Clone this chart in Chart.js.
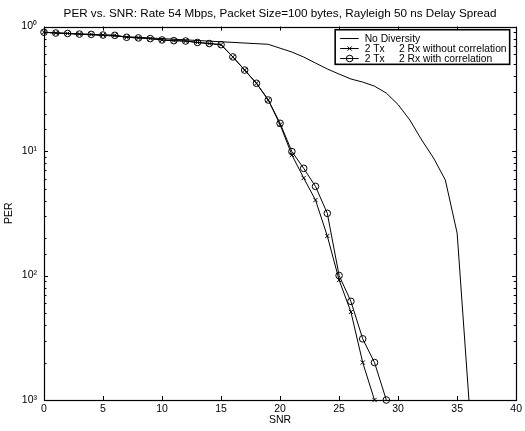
<!DOCTYPE html>
<html>
<head>
<meta charset="utf-8">
<script src="https://cdn.jsdelivr.net/npm/chart.js@4.4.1/dist/chart.umd.min.js"></script>
<style>
    html, body { margin: 0; padding: 0; background: #fff; }
    #wrap { width: 525px; height: 431px; }
</style>
</head>
<body>
<div id="wrap"><canvas id="perChart"></canvas></div>
<script>
// --- data ---
const snrWith = [0, 1, 2, 3, 4, 5, 6, 7, 8, 9, 10, 11, 12, 13, 14, 15, 16, 17, 18, 19, 20, 21, 22, 23, 24, 25, 26, 27, 28, 29];
const perWith = [0.90, 0.887, 0.88, 0.87, 0.865, 0.855, 0.85, 0.82, 0.81, 0.80, 0.78, 0.77, 0.765, 0.745, 0.73, 0.715,
    0.57, 0.447, 0.35, 0.257, 0.167, 0.099, 0.0726, 0.052, 0.0316, 0.010, 0.0062, 0.0031, 0.002, 0.001];

const snrWithout = [0, 1, 2, 3, 4, 5, 6, 7, 8, 9, 10, 11, 12, 13, 14, 15, 16, 17, 18, 19, 20, 21, 22, 23, 24, 25, 26, 27, 28];
const perWithout = [0.90, 0.887, 0.88, 0.87, 0.865, 0.855, 0.85, 0.82, 0.81, 0.80, 0.78, 0.77, 0.765, 0.745, 0.73, 0.715,
    0.57, 0.447, 0.35, 0.257, 0.163, 0.093, 0.0607, 0.0404, 0.0208, 0.0092, 0.0051, 0.002, 0.001];

const snrNoDiv = [0, 19, 20, 21, 22, 23, 24, 25, 26, 27, 28, 29, 30, 31, 32, 33, 34, 35, 36];
const perNoDiv = [0.90, 0.72, 0.67, 0.624, 0.569, 0.509, 0.456, 0.415, 0.379, 0.358, 0.332, 0.292, 0.236, 0.177,
    0.1226, 0.0879, 0.0585, 0.0219, 0.001];

const seriesLabels = ['No Diversity', '2 Tx     2 Rx without correlation', '2 Tx     2 Rx with correlation'];
const xTicks = [0, 5, 10, 15, 20, 25, 30, 35, 40];
const yDecades = [1, 0.1, 0.01, 0.001];
const yTickLabels = ['10\u2070', '10\u00b9', '10\u00b2', '10\u00b3'];

const fontFamily = "'Liberation Sans', Arial, Helvetica, sans-serif";

const toPoints = (xs, ys) => xs.map((x, i) => ({ x: x, y: ys[i] }));

function decadeIndex(v) {
    return yDecades.findIndex(d => Math.abs(Math.log10(v) - Math.log10(d)) < 1e-6);
}

// inward tick marks and the box round the plot, MATLAB style
const axesBox = {
    id: 'axesBox',
    afterDraw(chart) {
        const { ctx, chartArea: a, scales } = chart;
        ctx.save();
        ctx.strokeStyle = '#000';
        ctx.lineWidth = 1;
        ctx.beginPath();
        xTicks.forEach(v => {
            const px = Math.round(scales.x.getPixelForValue(v)) + 0.5;
            ctx.moveTo(px, a.bottom); ctx.lineTo(px, a.bottom - 4);
            ctx.moveTo(px, a.top); ctx.lineTo(px, a.top + 4);
        });
        scales.y.ticks.forEach(t => {
            const py = Math.round(scales.y.getPixelForValue(t.value)) + 0.5;
            const len = decadeIndex(t.value) >= 0 ? 4 : 2.5;
            ctx.moveTo(a.left, py); ctx.lineTo(a.left + len, py);
            ctx.moveTo(a.right, py); ctx.lineTo(a.right - len, py);
        });
        ctx.stroke();
        ctx.lineWidth = 1.2;
        ctx.strokeRect(Math.round(a.left) + 0.5, Math.round(a.top) + 0.5,
            Math.round(a.right - a.left), Math.round(a.bottom - a.top));
        ctx.restore();
    }
};

// legend box drawn inside the plot, top right
const insideLegend = {
    id: 'insideLegend',
    afterDraw(chart) {
        const { ctx, chartArea: a } = chart;
        const left = a.right - 181, top = a.top + 3.2, w = 174.5, h = 34.6;
        ctx.save();
        ctx.fillStyle = '#fff';
        ctx.fillRect(left, top, w, h);
        ctx.strokeStyle = '#000';
        ctx.lineWidth = 1.6;
        ctx.strokeRect(left, top, w, h);
        ctx.font = '10.3px ' + fontFamily;
        ctx.textBaseline = 'middle';
        ctx.textAlign = 'left';
        chart.data.datasets.forEach((ds, i) => {
            const y = top + 8.8 + i * 10;
            ctx.strokeStyle = '#000';
            ctx.lineWidth = 1;
            ctx.beginPath();
            ctx.moveTo(left + 5, y); ctx.lineTo(left + 23.5, y);
            ctx.stroke();
            if (ds.pointRadius > 0) {
                ctx.fillStyle = 'rgba(0,0,0,0)';
                Chart.helpers.drawPoint(ctx, {
                    pointStyle: ds.pointStyle, radius: ds.pointRadius,
                    borderWidth: 1, rotation: 0
                }, left + 14.5, y);
            }
            ctx.fillStyle = '#000';
            ctx.fillText(ds.label, left + 29.5, y + 0.5);
        });
        ctx.restore();
    }
};

new Chart(document.getElementById('perChart'), {
    type: 'line',
    data: {
        datasets: [{
            label: seriesLabels[0],
            data: toPoints(snrNoDiv, perNoDiv),
            borderColor: '#000',
            borderWidth: 1,
            pointRadius: 0,
            clip: false
        }, {
            label: seriesLabels[1],
            data: toPoints(snrWithout, perWithout),
            borderColor: '#000',
            borderWidth: 1,
            pointStyle: 'crossRot',
            pointRadius: 3,
            pointBorderWidth: 1,
            pointBorderColor: '#000',
            clip: false
        }, {
            label: seriesLabels[2],
            data: toPoints(snrWith, perWith),
            borderColor: '#000',
            borderWidth: 1,
            pointStyle: 'circle',
            pointRadius: 3.3,
            pointBorderWidth: 1,
            pointBorderColor: '#000',
            pointBackgroundColor: 'rgba(0,0,0,0)',
            clip: false
        }]
    },
    options: {
        responsive: true,
        maintainAspectRatio: false,
        animation: false,
        events: [],
        layout: { padding: { left: 0, right: 7.5, top: 0, bottom: 0 } },
        elements: { line: { tension: 0, fill: false } },
        plugins: {
            legend: { display: false },
            tooltip: { enabled: false },
            title: {
                display: true,
                text: 'PER vs. SNR: Rate 54 Mbps, Packet Size=100 bytes, Rayleigh 50 ns Delay Spread',
                color: '#000',
                fullSize: false,
                font: { family: fontFamily, size: 11.7, weight: 'normal' },
                padding: { top: 6.5, bottom: 6 }
            }
        },
        scales: {
            x: {
                type: 'linear',
                min: 0,
                max: 40,
                grid: { display: false, drawTicks: false },
                border: { display: false },
                afterBuildTicks: scale => { scale.ticks = xTicks.map(v => ({ value: v })); },
                afterFit: scale => { scale.height = 31; },
                ticks: {
                    color: '#000',
                    padding: 3,
                    autoSkip: false,
                    maxRotation: 0,
                    font: { family: fontFamily, size: 10.5 }
                },
                title: {
                    display: true,
                    text: 'SNR',
                    color: '#000',
                    font: { family: fontFamily, size: 10.5 },
                    padding: { top: 0, bottom: 4.5 }
                }
            },
            y: {
                type: 'logarithmic',
                min: 0.001,
                max: 1,
                grid: { display: false, drawTicks: false },
                border: { display: false },
                afterFit: scale => { scale.width = 44; },
                ticks: {
                    color: '#000',
                    padding: 7,
                    autoSkip: false,
                    font: { family: fontFamily, size: 10.5 },
                    callback: v => {
                        const i = decadeIndex(v);
                        return i >= 0 ? yTickLabels[i] : '';
                    }
                },
                title: {
                    display: true,
                    text: 'PER',
                    color: '#000',
                    font: { family: fontFamily, size: 10.5 },
                    padding: { top: 3, bottom: 0 }
                }
            }
        }
    },
    plugins: [axesBox, insideLegend]
});
</script>
</body>
</html>
